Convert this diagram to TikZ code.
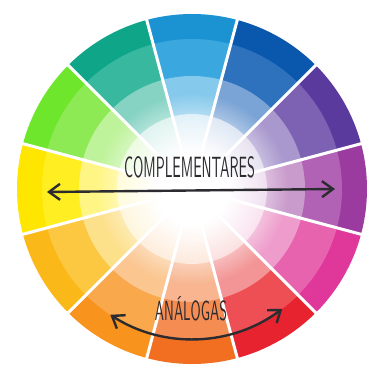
\documentclass[tikz,border=0pt]{standalone}
\usepackage{graphicx}
\usetikzlibrary{arrows.meta,fadings}
\definecolor{ink}{HTML}{2B2B30}
\pgfdeclareradialshading{glowshade}{\pgfpointorigin}{color(0bp)=(white); color(6bp)=(white); color(16bp)=(black); color(50bp)=(black)}
\pgfdeclarefading{glowfade}{\pgfuseshading{glowshade}}
\begin{document}
\begin{tikzpicture}[x=1pt,y=1pt,
  gap/.style={white, line width=3pt},
  arrowline/.style={ink, line width=2.4pt,
    {Straight Barb[length=11pt,width=16pt]}-{Straight Barb[length=11pt,width=16pt]}},
  wtext/.style={inner sep=0pt, text=ink, font=\sffamily}]
\useasboundingbox (0,0) rectangle (368,372);
\fill[white] (0,0) rectangle (368,372);
\coordinate (C) at (192,183);
\begin{scope}[shift={(C)}]
  \foreach \a/\ca/\cb/\cc/\cd in {
    90/1B93D3/3AA8DE/85C9EC/D2EAF6,
    60/0A58AD/2E72BD/7BA4D6/CCDBEE,
    30/5B3A9D/7D62B4/A898CD/DAD2E8,
    0/9B3B9F/B262B5/C99BCC/E8CFE8,
    -30/E0389A/E863AE/EE9CCB/F7D3E7,
    -60/E82330/EE4F55/F39596/FACFCF,
    -90/F26F22/F58D53/F8B590/FCDDCA,
    -120/F8931E/F9A84B/FBC690/FDE4CA,
    -150/FBB919/FCC842/FDE08A/FEF1CA,
    180/FEE600/FFEE22/FFF584/FFFACA,
    150/6EE62C/8DEA55/BFF39B/E4F9D2,
    120/0FA589/38B89F/86D3C3/CFEEE8}{
    \definecolor{ra}{HTML}{\ca}
    \definecolor{rb}{HTML}{\cb}
    \definecolor{rc}{HTML}{\cc}
    \definecolor{rd}{HTML}{\cd}
    \fill[ra] (0,0) -- (\a-15:175) arc[start angle=\a-15, end angle=\a+15, radius=175] -- cycle;
    \fill[rb] (0,0) -- (\a-15:150) arc[start angle=\a-15, end angle=\a+15, radius=150] -- cycle;
    \fill[rc] (0,0) -- (\a-15:113) arc[start angle=\a-15, end angle=\a+15, radius=113] -- cycle;
    \fill[rd] (0,0) -- (\a-15:75) arc[start angle=\a-15, end angle=\a+15, radius=75] -- cycle;
  }
  \foreach \b in {15,45,...,345}{
    \draw[gap] (0,0) -- (\b:178);
  }
  \fill[white, path fading=glowfade] (0,0) circle (150);
  \coordinate (al) at (237:150);
\end{scope}
\node[wtext, anchor=south] (comp) at (189.5,194) {\resizebox{131pt}{21pt}{COMPLEMENTARES}};
\node[wtext, anchor=south] (anal) at (191,51) {\resizebox{72pt}{24pt}{ANÁLOGAS}};
\coordinate (cl) at (47,180);
\coordinate (cr) at (335,183);
\draw[arrowline] (cl) -- (cr);
\draw[arrowline] (al) arc[start angle=237, end angle=307, radius=150];
\end{tikzpicture}
\end{document}
